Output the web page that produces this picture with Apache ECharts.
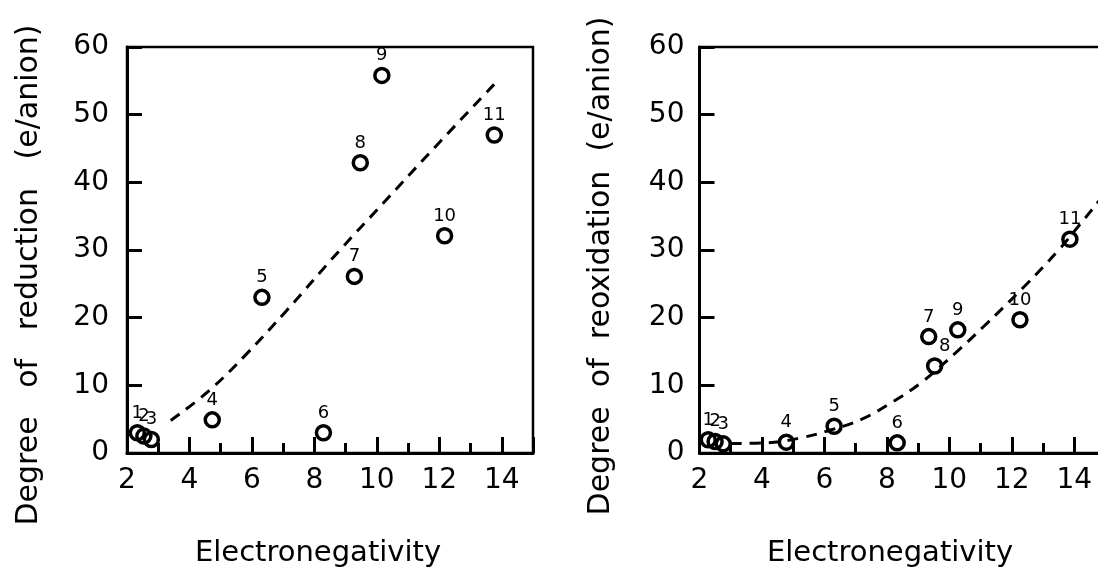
<!DOCTYPE html>
<html>
<head>
<meta charset="utf-8">
<script src="https://cdn.jsdelivr.net/npm/echarts@6/dist/echarts.min.js"></script>
<style>
  html, body { margin: 0; padding: 0; background: #fff; }
  #chart { width: 1098px; height: 568px; }
</style>
</head>
<body>
<div id="chart"></div>
<script>
const POINT_IDS = ['1', '2', '3', '4', '5', '6', '7', '8', '9', '10', '11'];

// left panel: degree of reduction
const RED_X = [2.33, 2.54, 2.78, 4.73, 6.32, 8.29, 9.28, 9.47, 10.16, 12.17, 13.76];
const RED_Y = [3.0, 2.5, 2.0, 4.9, 23.0, 3.0, 26.1, 42.9, 55.8, 32.1, 47.0];
const RED_FIT_X = [3.4, 4.6, 5.8, 7.1, 8.8, 10.2, 11.7, 13.8];
const RED_FIT_Y = [4.8, 9.1, 14.5, 21.0, 29.9, 36.9, 44.4, 54.7];

// right panel: degree of reoxidation
const REOX_X = [2.28, 2.50, 2.76, 4.78, 6.31, 8.33, 9.34, 9.53, 10.27, 12.26, 13.86];
const REOX_Y = [1.95, 1.7, 1.35, 1.6, 3.95, 1.5, 17.2, 12.85, 18.2, 19.7, 31.6];
const REOX_FIT_X = [3.0, 4.2, 5.3, 6.2, 7.2, 8.2, 9.1, 10.2, 11.1, 12.4, 13.5, 14.2, 14.8, 15.0];
const REOX_FIT_Y = [1.4, 1.5, 2.3, 3.4, 5.0, 7.6, 10.4, 14.8, 18.7, 24.6, 30.0, 33.9, 37.3, 38.6];

const X_MIN = 2, X_MAX = 15, X_STEP = 2, X_MINOR = 1;
const Y_MIN = 0, Y_MAX = 60, Y_STEP = 10;

const FONT = '"DejaVu Sans", sans-serif';
const chart = echarts.init(document.getElementById('chart'));

function pairs(xs, ys) {
  return xs.map((x, i) => [x, ys[i]]);
}

const grids = [], xAxes = [], yAxes = [], series = [];

function addPanel(left, labelGap, xs, ys, fitX, fitY, labelOffsets) {
  const g = grids.length;
  grids.push({
    left: left, top: 47, width: 406, height: 406,
    outerBoundsMode: 'none',
    show: true, borderColor: '#000', borderWidth: 2.5, backgroundColor: '#fff'
  });
  // major ticks + labels
  xAxes.push({
    gridIndex: g, type: 'value', min: X_MIN, max: X_MAX, interval: X_STEP,
    position: 'bottom',
    axisLine: { lineStyle: { color: '#000', width: 3 } },
    axisTick: { inside: true, length: 16, lineStyle: { color: '#000', width: 3 } },
    axisLabel: {
      color: '#000', fontFamily: FONT, fontSize: 28, margin: 14,
      formatter: v => (v === X_MAX ? '' : String(v))
    },
    splitLine: { show: false }
  });
  // odd-value short ticks
  xAxes.push({
    gridIndex: g, type: 'value', min: X_MIN, max: X_MAX, interval: X_MINOR,
    position: 'bottom', offset: 0,
    axisLine: { show: false },
    axisTick: { inside: true, length: 10, lineStyle: { color: '#000', width: 3 } },
    axisLabel: { show: false },
    splitLine: { show: false }
  });
  yAxes.push({
    gridIndex: g, type: 'value', min: Y_MIN, max: Y_MAX, interval: Y_STEP,
    axisLine: { show: true, lineStyle: { color: '#000', width: 3 } },
    axisTick: { show: true, inside: true, length: 15, lineStyle: { color: '#000', width: 3 } },
    axisLabel: { color: '#000', fontFamily: FONT, fontSize: 28, margin: labelGap },
    splitLine: { show: false }
  });
  series.push({
    type: 'line', xAxisIndex: g * 2, yAxisIndex: g,
    data: pairs(fitX, fitY), smooth: 0.4, symbol: 'none', silent: true,
    lineStyle: { color: '#000', width: 3, type: [11, 8] }, z: 2
  });
  series.push({
    type: 'scatter', xAxisIndex: g * 2, yAxisIndex: g,
    data: pairs(xs, ys).map((p, i) => {
      const item = { value: p, name: POINT_IDS[i] };
      if (labelOffsets[i]) item.label = { offset: labelOffsets[i] };
      return item;
    }),
    symbol: 'circle', symbolSize: 14,
    itemStyle: { color: 'rgba(255,255,255,0)', borderColor: '#000', borderWidth: 3.5, opacity: 1 },
    label: {
      show: true, position: 'top', distance: 2, formatter: '{b}',
      color: '#000', fontFamily: FONT, fontSize: 18, opacity: 1
    },
    z: 3
  });
}

addPanel(127, 18, RED_X, RED_Y, RED_FIT_X, RED_FIT_Y, {});
addPanel(699.5, 15, REOX_X, REOX_Y, REOX_FIT_X, REOX_FIT_Y, { 7: [10, 0] });

const titleStyle = { fill: '#000', font: '30px ' + FONT, textAlign: 'center', textVerticalAlign: 'middle' };

chart.setOption({
  backgroundColor: '#fff',
  animation: false,
  grid: grids,
  xAxis: xAxes,
  yAxis: yAxes,
  series: series,
  graphic: [
    { type: 'text', x: 318, y: 553, style: Object.assign({ text: 'Electronegativity' }, titleStyle, { font: '29px ' + FONT }) },
    { type: 'text', x: 890, y: 553, style: Object.assign({ text: 'Electronegativity' }, titleStyle, { font: '29px ' + FONT }) },
    { type: 'text', x: 29, y: 275, rotation: Math.PI / 2,
      style: Object.assign({ text: 'Degree   of   reduction   (e/anion)' }, titleStyle) },
    { type: 'text', x: 601, y: 266, rotation: Math.PI / 2,
      style: Object.assign({ text: 'Degree  of  reoxidation  (e/anion)' }, titleStyle) }
  ]
});
</script>
</body>
</html>
